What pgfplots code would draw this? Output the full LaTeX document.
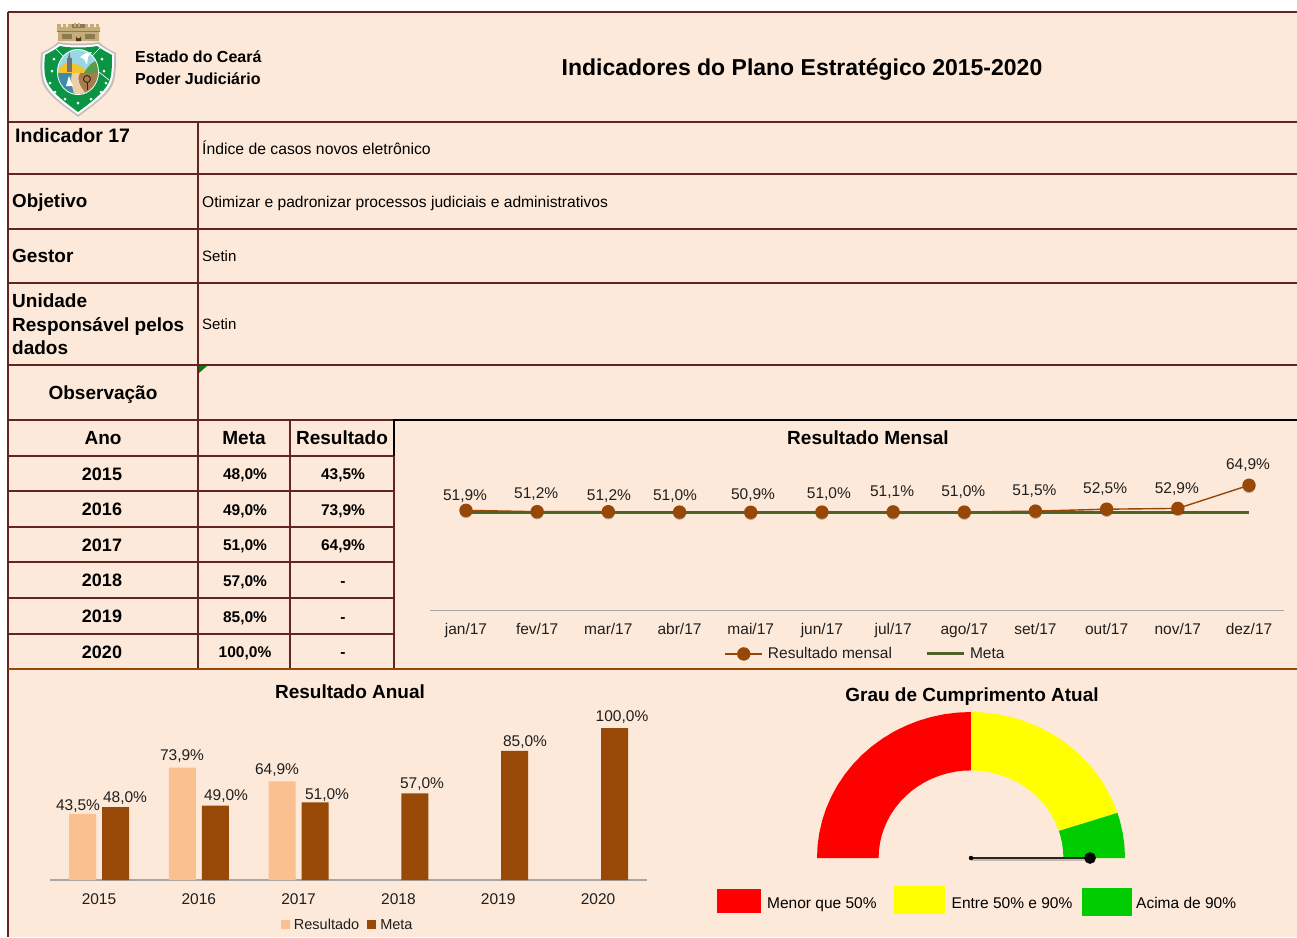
\documentclass[border=0pt]{standalone}
\usepackage{fontspec}
\setmainfont{Liberation Sans}
\usepackage{pgfplots}
\usepackage{pgfplotstable}
\pgfplotsset{compat=1.18}
\definecolor{panel}{HTML}{FDE9D9}
\definecolor{rule}{HTML}{632523}
\definecolor{orangerule}{HTML}{974706}
\definecolor{metabar}{HTML}{984807}
\definecolor{resbar}{HTML}{FAC090}
\definecolor{metaline}{HTML}{4F6228}
\definecolor{axisgray}{HTML}{A6A6A6}
\definecolor{labtext}{HTML}{1F1F1F}
\definecolor{gaugegreen}{HTML}{00CC00}
\definecolor{gaugeyellow}{HTML}{FFFF00}
\definecolor{gaugered}{HTML}{FF0000}
\definecolor{logogreen}{HTML}{0B9444}
\definecolor{logotan}{HTML}{C4AD78}
\definecolor{logotand}{HTML}{8E7A50}
\definecolor{logosky}{HTML}{9AD6E4}
\definecolor{logohill}{HTML}{5B9A47}
\definecolor{logosea}{HTML}{3C8CA5}
\definecolor{logoland}{HTML}{A97C50}
\definecolor{logosand}{HTML}{EBCFA8}
\definecolor{logosun}{HTML}{F2C230}
\newcommand{\fs}[1]{\fontsize{#1}{#1}\selectfont}
\newcommand{\TL}[4]{\node[anchor=mid west,inner sep=0pt,font=\fs{#3},yshift={-0.22*#3}] at (#1,#2) {#4};}
\newcommand{\TC}[4]{\node[anchor=mid,inner sep=0pt,font=\fs{#3},yshift={-0.22*#3}] at (#1,#2) {#4};}
\newcommand{\TLb}[4]{\node[anchor=mid west,inner sep=0pt,font=\fs{#3}\bfseries,yshift={-0.22*#3}] at (#1,#2) {#4};}
\newcommand{\TCb}[4]{\node[anchor=mid,inner sep=0pt,font=\fs{#3}\bfseries,yshift={-0.22*#3}] at (#1,#2) {#4};}
\pgfplotsset{pctlabels/.style={
  visualization depends on={\thisrow{dx} \as \dxv},
  visualization depends on={\thisrow{dy} \as \dyv},
  nodes near coords={\pgfmathprintnumber[fixed,fixed zerofill,precision=1,use comma,assume math mode=true]{\pgfplotspointmeta}\%},
  every node near coord/.append style={font=\fs{15.5},text=labtext,anchor=mid,inner sep=0pt,xshift=\dxv pt,yshift=\dyv pt - 3pt},
}}
\pgfplotstableread{
x y dx dy
0 51.9 -1 15.3
1 51.2 -1 18.7
2 51.2 0.6 16.7
3 51.0 -4.5 17.1
4 50.9 2.3 18.3
5 51.0 7 19.1
6 51.1 -1 20.9
7 51.0 -1 21.1
8 51.5 -1 21.1
9 52.5 -1.5 21.2
10 52.9 -1 20.4
11 64.9 -1 21.2
}\mensal
\pgfplotstableread{
x y
0 51
1 51
2 51
3 51
4 51
5 51
6 51
7 51
8 51
9 51
10 51
11 51
}\metamensal
\pgfplotstableread{
x y dx dy
0 43.5 -21 8.9
1 73.9 -16.8 12.7
2 64.9 -21.6 12.4
}\anualres
\pgfplotstableread{
x y dx dy
0 48 26 10
1 49 27.2 10.5
2 51 28.4 8.5
3 57 23.6 10.4
4 85 26.8 9.8
5 100 24 12
}\anualmeta
\begin{document}
\begin{tikzpicture}[x=1pt,y=-1pt]
\path[use as bounding box] (0,0) rectangle (1297,937);
\fill[white] (0,0) rectangle (1297,937);
\fill[panel] (8,12) rectangle (1297,937);
% table rules
\begin{scope}[draw=rule,line width=1.7pt]
\draw (8,12) -- (1297,12);
\draw (8,12) -- (8,937);
\foreach \yy in {122,174,229,283,365,420}{\draw (8,\yy) -- (1297,\yy);}
\foreach \yy in {456,491,527,562,598,634}{\draw (8,\yy) -- (394,\yy);}
\draw (198,122) -- (198,669);
\draw (290,420) -- (290,669);
\draw (394,456) -- (394,669);
\end{scope}
\draw[black,line width=1.7pt] (394,420) -- (1297,420);
\draw[black,line width=1.7pt] (394,419.2) -- (394,456);
\draw[orangerule,line width=1.7pt] (8,669) -- (1297,669);
\fill[green!50!black] (199,366) -- (207,366) -- (199,373) -- cycle;
% coat of arms
\fill[black!25!white] (58,42) .. controls (68,44) and (88,44) .. (99,42) .. controls (104,47) and (110,50) .. (116,53) .. controls (116,66) and (116,76) .. (113,84) .. controls (108,96) and (92,106) .. (78,117) .. controls (64,106) and (48,96) .. (43,84) .. controls (40,76) and (40,66) .. (41,53) .. controls (47,50) and (53,47) .. (58,42) -- cycle;
\fill[white] (59,44) .. controls (68,46) and (88,46) .. (98,44) .. controls (103,48) and (109,51) .. (114,54) .. controls (114,66) and (114,76) .. (111,83) .. controls (106,95) and (91,105) .. (78,114.5) .. controls (65,105) and (50,95) .. (45,83) .. controls (42,76) and (42,66) .. (43,54) .. controls (48,51) and (54,48) .. (59,44) -- cycle;
\fill[logogreen] (60,46) .. controls (68,48) and (88,48) .. (97,46) .. controls (102,50) and (107,52) .. (112,55) .. controls (112,66) and (112,75) .. (109,82) .. controls (104,93) and (90,103) .. (78,112) .. controls (66,103) and (52,93) .. (47,82) .. controls (44,75) and (44,66) .. (45,55) .. controls (50,52) and (55,50) .. (60,46) -- cycle;
\draw[white,line width=.7pt] (55,48) -- (64,57);
\draw[white,line width=.7pt] (100,48) -- (92,56);
\draw[white,line width=.7pt] (109,80) -- (94,68);
\fill[white] (78,72) ellipse (21 and 23);
\fill[logosky] (78,72) ellipse (20 and 22);
\begin{scope}
\clip (78,72) ellipse (20 and 22);
\fill[logosun] (58,73) .. controls (60,62) and (70,60) .. (80,66) .. controls (84,68) and (88,72) .. (90,73) -- cycle;
\fill[logohill] (84,73) .. controls (88,66) and (92,62) .. (98,60) -- (98,73) -- cycle;
\fill[logosea] (58,73) rectangle (80,94);
\fill[logoland] (76,73) rectangle (98,94);
\fill[logosand] (72,73) -- (80,73) .. controls (76,80) and (80,86) .. (86,94) -- (74,94) .. controls (72,86) and (70,80) .. (72,73) -- cycle;
\end{scope}
\fill[black!55!white] (66.5,72) rectangle (72,58);
\fill[black!55!white] (68,58) -- (69.3,52) -- (70.5,58) -- cycle;
\fill[white] (66,86) -- (69,76) -- (73,86) -- cycle;
\fill[white] (80,57) -- (86,53) -- (92,52) -- (88,57) -- (87,65) -- (84,59) -- cycle;
\draw[black!70!brown,line width=.9pt] (87,79) circle (3.5);
\draw[black!70!brown,line width=1pt] (87,82) -- (87,90);
\foreach \sx/\sy in {54,59,52,71,50,83,55,92,65,99,78,103,91,99,101,92,106,83,104,71,102,59}{}
\foreach \sx/\sy in {54/59,52/71,50/83,55/92,65/99,78/103,91/99,101/92,106/83,104/71,102/59}{\fill[white] (\sx,\sy) circle (1.5);}
\fill[logotan] (58,41) -- (99,41) -- (99,31) -- (100,31) -- (100,27) -- (57,27) -- (57,31) -- (58,31) -- cycle;
\foreach \tx in {57,62.5,68,73.5,79,84.5,90,95.5}{\fill[logotan] (\tx,24) rectangle (\tx+3.8,28);}
\fill[logotand] (72,24) rectangle (85,28);
\fill[logotan] (74,22.5) rectangle (76,27);
\fill[logotan] (78,22.5) rectangle (80,27);
\fill[logotand] (57,31) rectangle (100,32);
\fill[logotand] (62,34) rectangle (72,39);
\fill[logotand] (85,34) rectangle (95,39);
\fill[black!60!brown] (76,41) -- (76,36) arc[start angle=180,end angle=0,radius=2.5] -- (81,41) -- cycle;
% header texts
\TLb{135}{56}{16}{Estado do Ceará}
\TLb{135}{78}{16}{Poder Judiciário}
\TCb{802}{68}{23}{Indicadores do Plano Estratégico 2015-2020}
\TLb{15}{136}{19.5}{Indicador 17}
\TL{202}{148}{15.75}{Índice de casos novos eletrônico}
\TLb{12}{201}{18.8}{Objetivo}
\TL{202}{201}{15.6}{Otimizar e padronizar processos judiciais e administrativos}
\TLb{12}{256}{19}{Gestor}
\TL{202}{256}{15}{Setin}
\TLb{12}{301}{19}{Unidade}
\TLb{12}{325}{19}{Responsável pelos}
\TLb{12}{348}{19}{dados}
\TL{202}{324}{15}{Setin}
\TCb{103}{393}{19}{Observação}
\TCb{103}{438}{19}{Ano}
\TCb{244}{438}{19}{Meta}
\TCb{342}{438}{19}{Resultado}
\TCb{102}{474}{18}{2015}
\TCb{102}{509}{18}{2016}
\TCb{102}{545}{18}{2017}
\TCb{102}{580}{18}{2018}
\TCb{102}{616}{18}{2019}
\TCb{102}{652}{18}{2020}
\TCb{245}{473}{15.5}{48,0\%}
\TCb{245}{509}{15.5}{49,0\%}
\TCb{245}{544}{15.5}{51,0\%}
\TCb{245}{580}{15.5}{57,0\%}
\TCb{245}{616}{15.5}{85,0\%}
\TCb{245}{651}{15.5}{100,0\%}
\TCb{343}{473}{15.5}{43,5\%}
\TCb{343}{509}{15.5}{73,9\%}
\TCb{343}{544}{15.5}{64,9\%}
\TCb{343}{580}{15.5}{-}
\TCb{343}{616}{15.5}{-}
\TCb{343}{651}{15.5}{-}
\TCb{868}{438}{19}{Resultado Mensal}
\TCb{350}{692}{19}{Resultado Anual}
\TCb{972}{695}{19}{Grau de Cumprimento Atual}
% monthly line chart
\begin{axis}[
  at={(430pt,-610.5pt)},anchor=south west,
  width=854pt,height=193pt,scale only axis,
  xmin=-0.5056,xmax=11.4916,ymin=0,ymax=100,
  hide y axis,axis x line=bottom,
  axis line style={axisgray,line width=1.2pt,-},
  clip=false,
  xtick={0,...,11},
  xticklabels={jan/17,fev/17,mar/17,abr/17,mai/17,jun/17,jul/17,ago/17,set/17,out/17,nov/17,dez/17},
  major tick length=0pt,
  xticklabel style={font=\fs{15.5},text=labtext,anchor=mid,yshift=-21pt},
  legend columns=-1,
  legend style={at={(0.51,-0.225)},anchor=center,draw=none,fill=none,inner sep=0pt,
    font=\fs{15.5},text=labtext,
    /tikz/every even column/.append style={column sep=31pt},
    /tikz/every odd column/.append style={column sep=3pt}},
  legend cell align=left,
  legend image code/.code={\draw[mark repeat=2,mark phase=2,#1] plot coordinates {(0pt,0pt)(18.5pt,0pt)(37pt,0pt)};},
]
\addplot[forget plot,only marks,mark=*,mark size=6pt,black,opacity=.22,draw=none,mark options={yshift=-1.5pt,draw=none}] table[x=x,y=y] {\mensal};
\addplot[orangerule,line width=1.4pt,mark=*,mark size=6pt,mark options={fill=orangerule,draw=none},pctlabels] table[x=x,y=y] {\mensal};
\addlegendentry{Resultado mensal}
\addplot[metaline,line width=3pt] table[x=x,y=y] {\metamensal};
\addlegendentry{Meta}
\end{axis}
% annual bars
\begin{axis}[
  at={(50pt,-880pt)},anchor=south west,
  width=597pt,height=152pt,scale only axis,
  xmin=-0.491,xmax=5.491,ymin=0,ymax=100,
  hide y axis,axis x line=bottom,
  axis line style={axisgray,line width=1.2pt,-},
  clip=false,
  xtick={0,...,5},
  xticklabels={2015,2016,2017,2018,2019,2020},
  major tick length=0pt,
  xticklabel style={font=\fs{15.5},text=labtext,anchor=mid,yshift=-22pt},
  legend columns=-1,
  legend style={at={(0.4987,-0.295)},anchor=center,draw=none,fill=none,inner sep=0pt,
    font=\fs{14.5},text=labtext,
    /tikz/every even column/.append style={column sep=6pt},
    /tikz/every odd column/.append style={column sep=2pt}},
  legend cell align=left,
  legend image code/.code={\fill[#1] (0pt,-4.5pt) rectangle (9pt,4.5pt);},
]
\addplot[ybar,bar width=27pt,bar shift=-16.5pt,fill=resbar,draw=none,pctlabels] table[x=x,y=y] {\anualres};
\addlegendentry{Resultado}
\addplot[ybar,bar width=27pt,bar shift=16.5pt,fill=metabar,draw=none,pctlabels] table[x=x,y=y] {\anualmeta};
\addlegendentry{Meta}
\end{axis}
% gauge
\begin{axis}[
  at={(817pt,-858pt)},anchor=south west,
  width=308pt,height=146pt,scale only axis,
  xmin=-1,xmax=1,ymin=0,ymax=1,
  hide axis,clip=false,
]
\addplot[data cs=polar,fill=gaugered,draw=none] coordinates {
(180,1)(175,1)(170,1)(165,1)(160,1)(155,1)(150,1)(145,1)(140,1)(135,1)(130,1)(125,1)(120,1)(115,1)(110,1)(105,1)(100,1)(95,1)(90,1)
(90,0.6)(95,0.6)(100,0.6)(105,0.6)(110,0.6)(115,0.6)(120,0.6)(125,0.6)(130,0.6)(135,0.6)(140,0.6)(145,0.6)(150,0.6)(155,0.6)(160,0.6)(165,0.6)(170,0.6)(175,0.6)(180,0.6)
} -- cycle;
\addplot[data cs=polar,fill=gaugeyellow,draw=none] coordinates {
(90,1)(85,1)(80,1)(75,1)(70,1)(65,1)(60,1)(55,1)(50,1)(45,1)(40,1)(35,1)(30,1)(25,1)(20,1)(18,1)
(18,0.6)(20,0.6)(25,0.6)(30,0.6)(35,0.6)(40,0.6)(45,0.6)(50,0.6)(55,0.6)(60,0.6)(65,0.6)(70,0.6)(75,0.6)(80,0.6)(85,0.6)(90,0.6)
} -- cycle;
\addplot[data cs=polar,fill=gaugegreen,draw=none] coordinates {
(18,1)(15,1)(10,1)(5,1)(0,1)(0,0.6)(5,0.6)(10,0.6)(15,0.6)(18,0.6)
} -- cycle;
\addplot[black,opacity=.2,line width=2pt,mark=none,yshift=-2pt] coordinates {(0,0)(0.773,0)};
\addplot[black!85,line width=1.8pt,mark=none] coordinates {(0,0)(0.773,0)};
\addplot[only marks,mark=*,mark size=2pt,black,mark options={draw=none}] coordinates {(0,0)};
\addplot[only marks,mark=*,mark size=5.6pt,black,mark options={draw=none}] coordinates {(0.773,0)};
\end{axis}
% gauge key
\fill[gaugered] (717,889) rectangle (761,913);
\fill[gaugeyellow] (894,886) rectangle (945,914);
\fill[gaugegreen] (1082,888) rectangle (1132,916);
\TL{767}{902}{15.5}{Menor que 50\%}
\TL{951.5}{902}{15.5}{Entre 50\% e 90\%}
\TL{1136}{902}{15.5}{Acima de 90\%}
\end{tikzpicture}
\end{document}
